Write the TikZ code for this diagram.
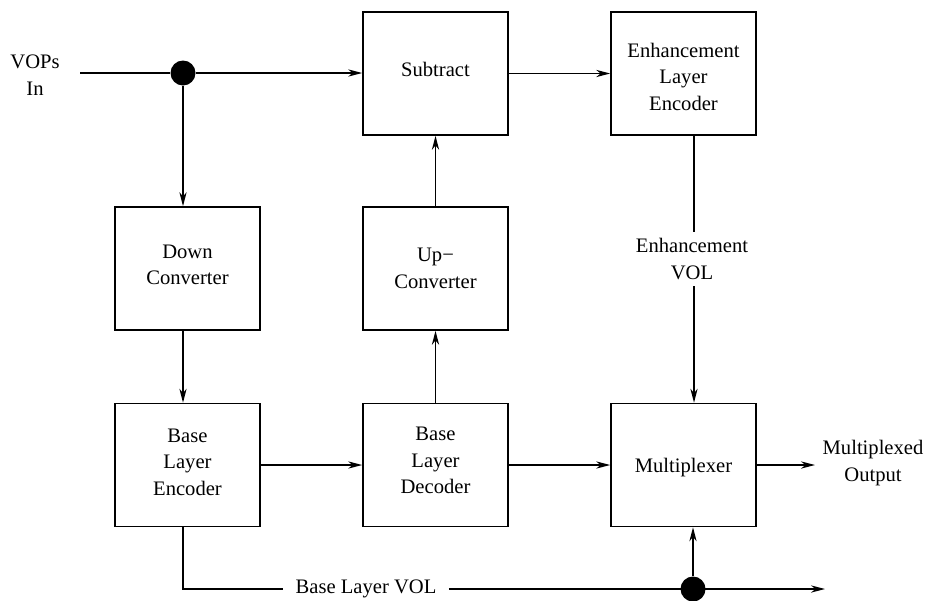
\documentclass[tikz,border=0pt]{standalone}
\usepackage{fontspec}
\setmainfont{Liberation Serif}
\usetikzlibrary{arrows.meta}
% block caption with extra room above (#1) and below (#2), which moves it down or up in its box
\newcommand{\boxtext}[3]{\raisebox{0pt}[\dimexpr\height+#1\relax][\dimexpr\depth+#2\relax]{\begin{tabular}{@{}c@{}}#3\end{tabular}}}
\begin{document}
\begin{tikzpicture}[x=0.5pt,y=-0.5pt,
  every node/.style={font=\fontsize{10.3}{13.3}\selectfont, align=center},
  block/.style={draw, line width=0.8pt, minimum width=72.5pt, minimum height=61.5pt, inner sep=0pt},
  dot/.style={circle, fill=black, minimum size=12.5pt, inner sep=0pt},
  flow/.style={line width=0.8pt},
  >={Stealth[length=7pt, width=3.6pt, inset=2.2pt]}]
\useasboundingbox (0,0) rectangle (925,600);

% processing blocks
\node[block] (sub) at (435.5,73.5)  {\boxtext{0pt}{2pt}{Subtract}};
\node[block] (ele) at (683.5,73.5)  {\boxtext{5pt}{0pt}{Enhancement\\Layer\\Encoder}};
\node[block] (dwn) at (187.5,268.5) {\boxtext{0pt}{2.5pt}{Down\\Converter}};
\node[block] (upc) at (435.5,268.5) {\boxtext{1pt}{0pt}{Up−\\Converter}};
\node[block] (ble) at (187.5,465)   {\boxtext{0pt}{1.5pt}{Base\\Layer\\Encoder}};
\node[block] (bld) at (435.5,465)   {\boxtext{0pt}{3pt}{Base\\Layer\\Decoder}};
\node[block] (mux) at (683.5,465)   {\boxtext{2pt}{0pt}{Multiplexer}};

% input, branch point and labels
\node (vin) at (35,75) {VOPs\\In};
\coordinate (vstart) at (80,73);
\node[dot] (d1) at (183,73) {};
\node[inner sep=3pt] (evol) at (692,259) {Enhancement\\VOL};
\node (mout) at (873,463) {Multiplexed\\Output};
\coordinate (oend) at (815,465);
\coordinate (ex) at (694,0);

% base layer bitstream line
\coordinate (bc) at (183,589);
\node[inner xsep=6pt, inner ysep=0pt] (bvol) at (366,589) {Base Layer VOL};
\node[dot] (d2) at (693,589) {};
\coordinate (bend) at (825,589);

% connectors
\draw[flow] (vstart) -- (d1);
\draw[flow,->] (d1) -- (sub.west |- d1);
\draw[flow,->] (d1) -- (dwn.north -| d1);
\draw[flow,->] (sub.east) -- (ele.west);
\draw[flow,->] (dwn.south -| d1) -- (ble.north -| d1);
\draw[flow,->] (ble.east) -- (bld.west);
\draw[flow,->] (bld.north) -- (upc.south);
\draw[flow,->] (upc.north) -- (sub.south);
\draw[flow,->] (bld.east) -- (mux.west);
\draw[flow,->] (mux.east) -- (oend);
\draw[flow] (ele.south -| ex) -- (evol.north -| ex);
\draw[flow,->] (evol.south -| ex) -- (mux.north -| ex);
\draw[flow] (ble.south -| bc) -- (bc) -- (bvol.west);
\draw[flow,->] (bvol.east) -- (bend);
\draw[flow,->] (d2) -- (mux.south -| d2);
\end{tikzpicture}
\end{document}
